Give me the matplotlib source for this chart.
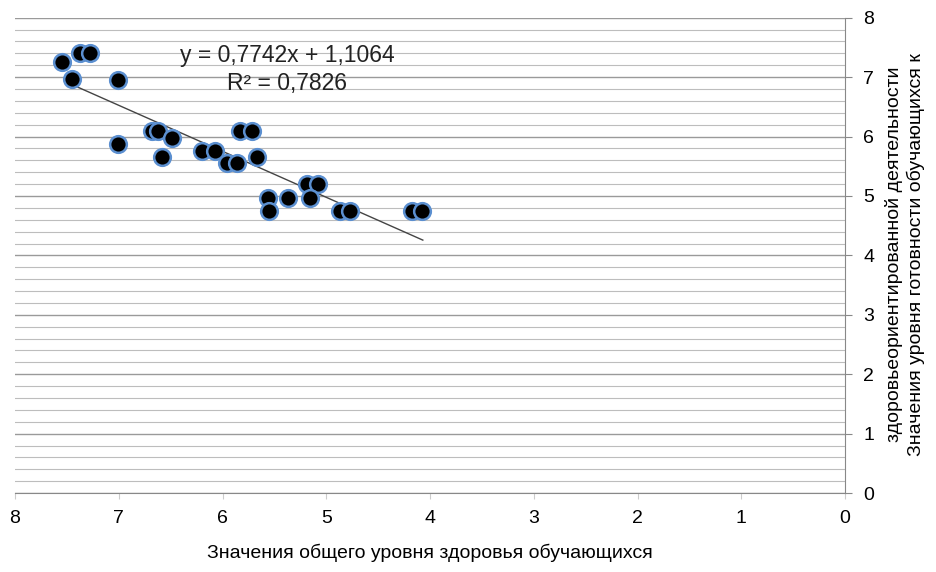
import matplotlib
matplotlib.use("Agg")
import matplotlib.pyplot as plt
import numpy as np
from matplotlib.ticker import MultipleLocator

plt.rcParams['font.family'] = ['Liberation Sans', 'DejaVu Sans']

# health level (x) vs readiness level (y)
health = [7.55, 7.37, 7.28, 7.45, 7.01, 6.68, 6.62, 6.49, 7.01, 6.58,
          6.20, 6.07, 5.96, 5.86, 5.83, 5.72, 5.67, 5.56, 5.55, 5.37,
          5.19, 5.08, 5.16, 4.87, 4.77, 4.17, 4.08]
readiness = [7.26, 7.41, 7.41, 6.97, 6.95, 6.09, 6.09, 5.97, 5.87, 5.66,
             5.76, 5.76, 5.56, 5.56, 6.09, 6.09, 5.66, 4.97, 4.75, 4.97,
             5.20, 5.20, 4.97, 4.75, 4.75, 4.75, 4.75]
slope, intercept = 0.7742, 1.1064
trend_x = [7.45, 4.07]
eq_text = "y = 0,7742x + 1,1064\nR² = 0,7826"
xlabel = "Значения общего уровня здоровья обучающихся"
ylabel1 = "Значения уровня готовности обучающихся к"
ylabel2 = "здоровьеориентированной деятельности"

fig = plt.figure(figsize=(9.37, 5.72), dpi=100)
ax = fig.add_axes([0.016, 0.138, 0.886, 0.831])

ax.set_xlim(8, 0)
ax.set_ylim(0, 8)
ax.yaxis.set_major_locator(MultipleLocator(1))
ax.yaxis.set_minor_locator(MultipleLocator(0.2))
ax.xaxis.set_major_locator(MultipleLocator(1))
ax.grid(which='major', axis='y', color='#9a9a9a', lw=1.0)
ax.grid(which='minor', axis='y', color='#bdbdbd', lw=0.8)
ax.set_axisbelow(True)

for s in ['left', 'top']:
    ax.spines[s].set_visible(False)
ax.spines['right'].set_color('#888888')
ax.spines['bottom'].set_color('#888888')
ax.yaxis.tick_right()
ax.tick_params(axis='y', which='minor', length=0)
ax.tick_params(axis='y', which='major', color='#888888', length=5, labelsize=14, pad=8)
ax.tick_params(axis='x', color='#cccccc', length=4, labelsize=14, pad=8)

tx = np.array(trend_x)
ax.plot(tx, slope * tx + intercept, color='#444444', lw=1.0, zorder=2)
ax.plot(health, readiness, 'o', ms=12, mfc='black', mec='#5b8fd0', mew=1.8,
        zorder=3)

ax.text(5.38, 7.13, eq_text, ha='center', va='center', fontsize=16.5,
        linespacing=1.3, color='#222222')

ax.set_xlabel(xlabel, fontsize=14, labelpad=12)
fig.text(0.977, 0.555, ylabel1, rotation=90, ha='center', va='center', fontsize=14)
fig.text(0.954, 0.555, ylabel2, rotation=90, ha='center', va='center', fontsize=14)

fig.savefig("out.png", dpi=100)
